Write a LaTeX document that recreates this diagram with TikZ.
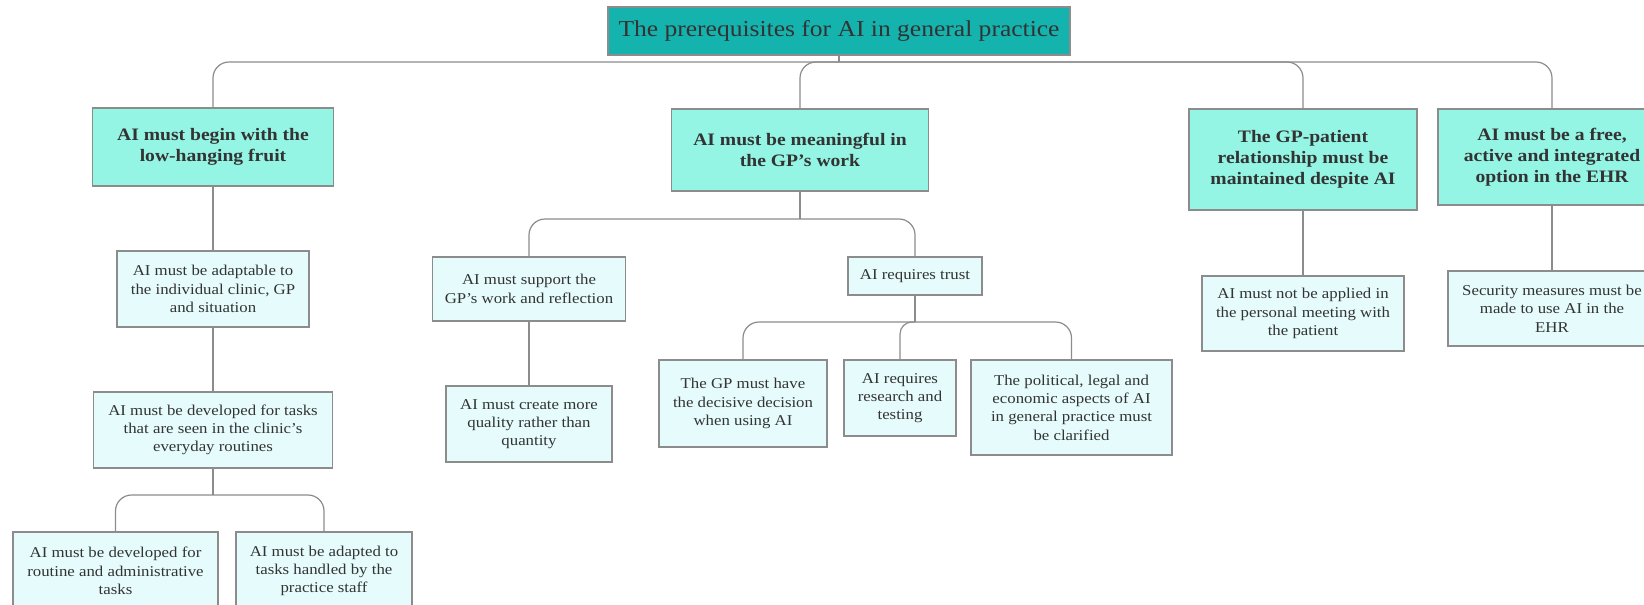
\documentclass[tikz,border=0pt]{standalone}
\usepackage{fontspec}
\setmainfont{Liberation Serif}[FakeStretch=1.12]
\usepackage{tikz}
\definecolor{tealbar}{HTML}{14B3AE}
\definecolor{mint}{HTML}{94F5E4}
\definecolor{pale}{HTML}{E6FCFC}
\definecolor{rim}{HTML}{8C8C8C}
\definecolor{ink}{HTML}{333333}
\tikzset{root/.style = {shape=rectangle,draw=rim,line width=1.2pt,fill=tealbar,text=ink,align=center,inner sep=0pt,font=\fontsize{22.8}{26}\selectfont}}
\tikzset{topic/.style = {shape=rectangle,draw=rim,line width=1.2pt,fill=mint,text=ink,align=center,inner sep=0pt,font=\fontsize{17.5}{21}\selectfont\bfseries}}
\tikzset{leaf/.style = {shape=rectangle,draw=rim,line width=1.2pt,fill=pale,text=ink,align=center,inner sep=0pt,font=\fontsize{15}{18.3}\selectfont}}

\begin{document}
\begin{tikzpicture}[x=1pt,y=-1pt]
\tikzset{edge/.style = {-,draw=rim,line width=1.2pt,rounded corners=16pt}}
\useasboundingbox (0,0) rectangle (1644,605);
% vertices
\node[root,minimum width=462pt,minimum height=48pt] (top) at (839,31) {The prerequisites for AI in general practice};
\node[topic,minimum width=241pt,minimum height=78pt] (low) at (213,147) {AI must begin with the\\low-hanging fruit};
\node[topic,minimum width=257pt,minimum height=82pt] (meaning) at (800,150) {AI must be meaningful in\\the GP's work};
\node[topic,minimum width=228pt,minimum height=101pt] (patient) at (1303,159.5) {The GP-patient\\relationship must be\\maintained despite AI};
\node[topic,minimum width=228pt,minimum height=96pt] (ehr) at (1552,157) {AI must be a free,\\active and integrated\\option in the EHR};
\node[leaf,minimum width=192pt,minimum height=76pt] (adapt) at (213,289) {AI must be adaptable to\\the individual clinic, GP\\and situation};
\node[leaf,minimum width=239pt,minimum height=76pt] (daily) at (213,430) {AI must be developed for tasks\\that are seen in the clinic's\\everyday routines};
\node[leaf,minimum width=205pt,minimum height=78pt] (routine) at (115.5,571) {AI must be developed for\\routine and administrative\\tasks};
\node[leaf,minimum width=176pt,minimum height=78pt] (staff) at (324,571) {AI must be adapted to\\tasks handled by the\\practice staff};
\node[leaf,minimum width=193pt,minimum height=64pt] (support) at (529,289) {AI must support the\\GP's work and reflection};
\node[leaf,minimum width=166pt,minimum height=76pt] (quality) at (529,424) {AI must create more\\quality rather than\\quantity};
\node[leaf,minimum width=134pt,minimum height=38pt] (trust) at (915,276) {AI requires trust};
\node[leaf,minimum width=168pt,minimum height=87pt] (decide) at (743,403.5) {The GP must have\\the decisive decision\\when using AI};
\node[leaf,minimum width=112pt,minimum height=76pt] (research) at (900,398) {AI requires\\research and\\testing};
\node[leaf,minimum width=201pt,minimum height=95pt] (policy) at (1071.5,407.5) {The political, legal and\\economic aspects of AI\\in general practice must\\be clarified};
\node[leaf,minimum width=202pt,minimum height=75pt] (meeting) at (1303,313.5) {AI must not be applied in\\the personal meeting with\\the patient};
\node[leaf,minimum width=208pt,minimum height=75pt] (security) at (1552,308.5) {Security measures must be\\made to use AI in the\\EHR};
% junctions
\coordinate (j0) at (839,62);
\coordinate (j1) at (800,219);
\coordinate (j2) at (213,495);
\coordinate (j3) at (915,322);
%edges
\draw[edge] (top) -- (j0);
\draw[edge] (j0) -| (low);
\draw[edge] (j0) -| (meaning);
\draw[edge] (j0) -| (patient);
\draw[edge] (j0) -| (ehr);
\draw[edge] (low) -- (adapt);
\draw[edge] (adapt) -- (daily);
\draw[edge] (daily) -- (j2);
\draw[edge] (j2) -| (routine);
\draw[edge] (j2) -| (staff);
\draw[edge] (meaning) -- (j1);
\draw[edge] (j1) -| (support);
\draw[edge] (j1) -| (trust);
\draw[edge] (support) -- (quality);
\draw[edge] (trust) -- (j3);
\draw[edge] (j3) -| (decide);
\draw[edge,rounded corners=12pt] (j3) -| (research);
\draw[edge] (j3) -| (policy);
\draw[edge] (patient) -- (meeting);
\draw[edge] (ehr) -- (security);
\end{tikzpicture}
\end{document}
